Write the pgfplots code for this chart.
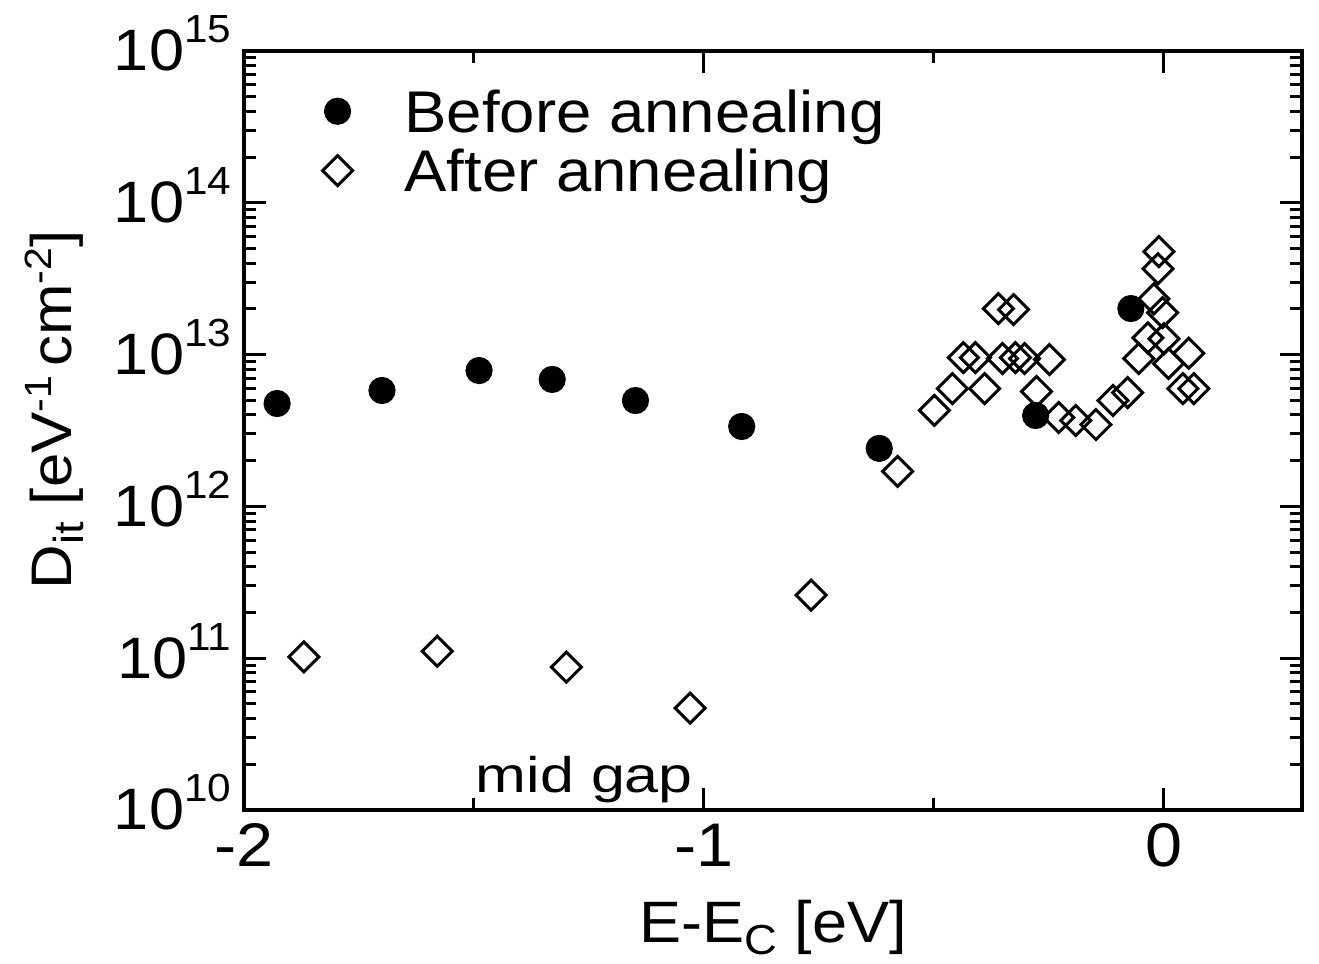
\documentclass[border=0pt]{standalone}
\usepackage{fontspec}
\setmainfont{Liberation Sans}[FakeStretch=1.08]
\newfontfamily\midfont{Liberation Sans}[FakeStretch=1.22]
\usepackage{pgfplots}
\pgfplotsset{compat=1.18}
\newcommand{\tenp}[1]{10\raisebox{7pt}{\fontsize{9.8}{10}\selectfont #1}}
\newcommand{\lsup}[1]{\raisebox{5pt}{\fontsize{9.5}{10}\selectfont #1}}
\newcommand{\lsub}[1]{\raisebox{-3pt}{\fontsize{10.5}{11}\selectfont #1}}

\begin{document}
\begin{tikzpicture}
\begin{axis}[
  name=ax,
  scale only axis, width=264.5pt, height=189.75pt,
  xmin=-2, xmax=0.3,
  ymode=log, ymin=1e10, ymax=1e15,
  axis line style={line width=0.8pt},
  every tick/.style={line width=0.75pt, black},
  major tick length=5.5pt, minor tick length=3pt,
  tick align=inside,
  xtick={-2,-1,0}, xticklabels={-2,-1,0},
  minor xtick={-1.5,-0.5},
  ytick={1e10,1e11,1e12,1e13,1e14,1e15},
  yticklabels={\tenp{10},\tenp{11},\tenp{12},\tenp{13},\tenp{14},\tenp{15}},
  xticklabel style={font=\fontsize{15.4}{16}\selectfont, anchor=base, inner sep=0pt, yshift=-14.25pt},
  yticklabel style={font=\fontsize{14.6}{16}\selectfont, anchor=base east, inner sep=0pt, xshift=-3pt, yshift=-5pt},
  xlabel={E-E\lsub{C} [eV]},
  xlabel style={font=\fontsize{14.6}{15}\selectfont, at={(axis description cs:0.5,-0.1752)}, anchor=base, inner sep=0pt},
  ylabel={D\lsub{it} [eV\lsup{-1}\,cm\lsup{-2}]},
  ylabel style={font=\fontsize{14.3}{15}\selectfont, at={(axis description cs:-0.1626,0.527)}, anchor=base, inner sep=0pt},
  legend style={draw=none, fill=none, at={(axis description cs:0.0622,0.9655)}, anchor=north west,
    font=\fontsize{14.7}{15}\selectfont, nodes={inner sep=1pt, text depth=0pt},
    row sep=2.2pt, column sep=12pt},
  legend cell align=left,
]
\addplot[only marks, mark=*, mark size=3.2pt, mark options={black}] coordinates {
  (-1.928,4.76e12)
  (-1.700,5.80e12)
  (-1.489,7.85e12)
  (-1.330,6.86e12)
  (-1.149,4.98e12)
  (-0.918,3.36e12)
  (-0.619,2.41e12)
  (-0.279,3.97e12)
  (-0.072,2.01e13)
};
\addlegendentry{Before annealing}
\addplot[only marks, mark=square, mark size=2.65pt, mark options={rotate=45, draw=black, fill=none, line width=0.75pt}] coordinates {
  (-1.870,1.02e11)
  (-1.580,1.11e11)
  (-1.299,8.73e10)
  (-1.030,4.69e10)
  (-0.767,2.60e11)
  (-0.579,1.70e12)
  (-0.499,4.29e12)
  (-0.460,5.97e12)
  (-0.390,5.97e12)
  (-0.436,9.55e12)
  (-0.410,9.55e12)
  (-0.360,2.01e13)
  (-0.327,1.98e13)
  (-0.351,9.42e12)
  (-0.323,9.55e12)
  (-0.303,9.42e12)
  (-0.249,9.27e12)
  (-0.277,5.71e12)
  (-0.229,3.85e12)
  (-0.192,3.68e12)
  (-0.148,3.46e12)
  (-0.111,4.98e12)
  (-0.079,5.62e12)
  (-0.055,9.42e12)
  (-0.035,1.29e13)
  (-0.022,2.33e13)
  (-0.013,3.68e13)
  (-0.011,4.77e13)
  (-0.003,1.89e13)
  (0.000,1.27e13)
  (0.010,8.73e12)
  (0.054,1.02e13)
  (0.041,5.97e12)
  (0.065,5.97e12)
};
\addlegendentry{After annealing}
\node[anchor=base, inner sep=0pt, font=\midfont\fontsize{12.5}{13}\selectfont] at (axis cs:-1.26,1.31e10) {mid gap};
\end{axis}
\pgfresetboundingbox
\path ([xshift=-61pt,yshift=-38.5pt]ax.south west) rectangle ([xshift=4.25pt,yshift=12.75pt]ax.north east);
\end{tikzpicture}
\end{document}
